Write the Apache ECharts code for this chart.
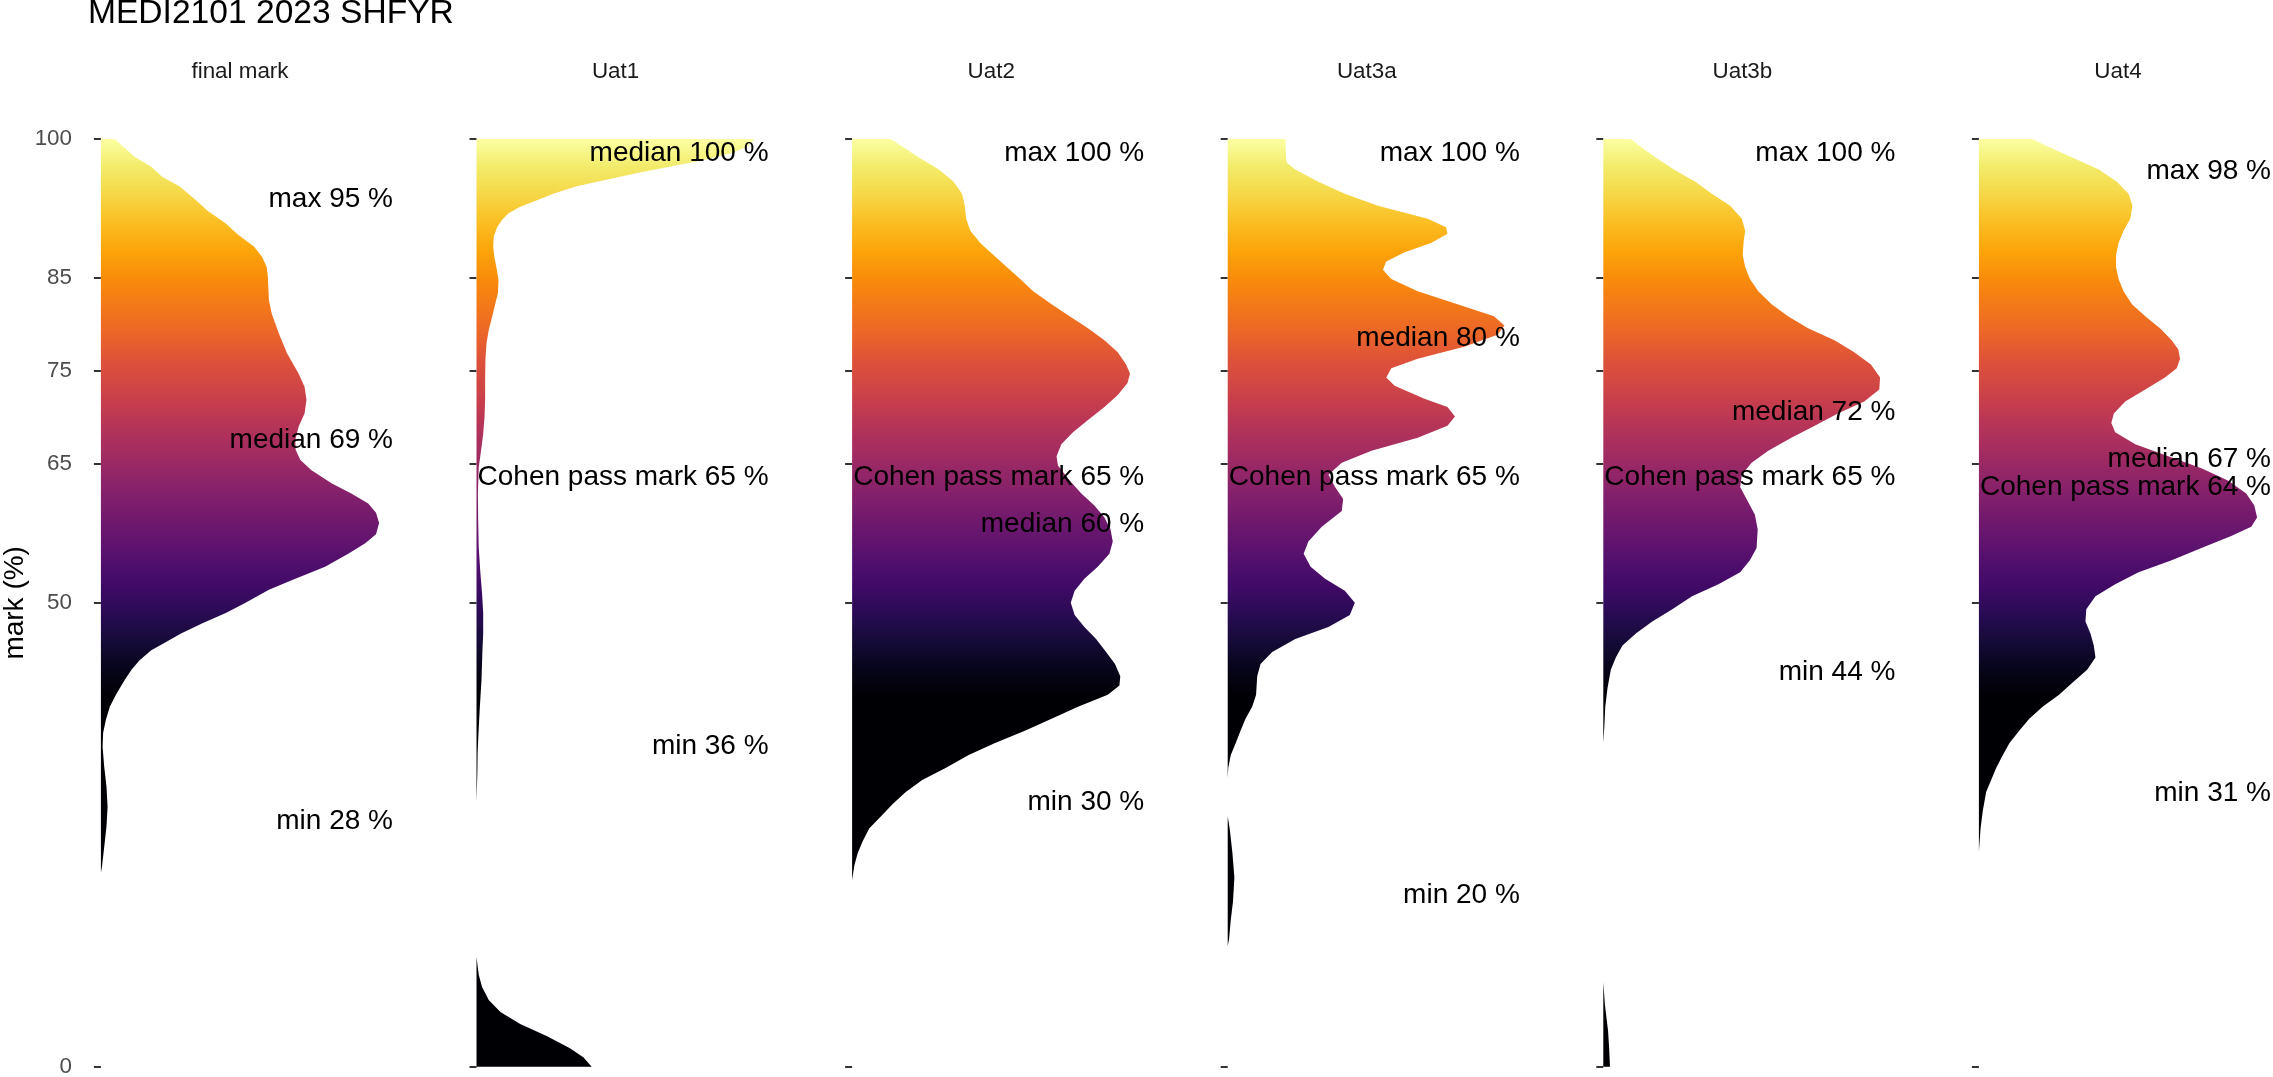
<!DOCTYPE html>
<html>
<head>
<meta charset="utf-8">
<script src="https://cdn.jsdelivr.net/npm/echarts@6/dist/echarts.min.js"></script>
<style>
html,body{margin:0;padding:0;background:#ffffff;}
#chart{width:2273px;height:1077px;}
</style>
</head>
<body>
<div id="chart"></div>
<script>
// ---------------- DATA ----------------
const chartTitle = 'MEDI2101 2023 SHFYR';
const yAxisTitle = 'mark (%)';
const facetNames = ['final mark', 'Uat1', 'Uat2', 'Uat3a', 'Uat3b', 'Uat4'];
const yTickValues = [0, 50, 65, 75, 85, 100];

// density outlines: [mark, relative density]; null = gap in the density
const densityFinal = [[100,5],[99.2,8],[98.1,12.1],[97.0,18.1],[95.9,22.1],[94.9,28.2],[93.4,34.2],[92.3,38.2],[90.9,44.9],[89.8,48.9],[88.4,55],[87.3,57.9],[86.2,59.6],[85.2,60],[82.6,60.4],[81.2,61.4],[79.1,63.9],[76.9,66.9],[74.7,71.1],[73.3,73.2],[71.9,73.9],[70.4,73.2],[69.0,71.1],[67.6,69.9],[66.5,70],[65.4,71.7],[64.3,75.7],[62.9,82.9],[61.8,90],[60.7,96.1],[59.7,98.9],[58.6,100],[57.4,98.9],[56.4,94.9],[55.3,88.9],[53.9,80.6],[52.5,69],[51.4,60.4],[50.0,52],[48.9,44.9],[47.8,36.5],[46.7,28.8],[45.6,22.3],[44.9,18.1],[43.8,13.9],[42.8,11],[41.7,8.6],[40.2,5.6],[38.8,3.2],[37.4,1.8],[36.0,0.8],[34.5,0.6],[32.3,1.2],[30.2,2.0],[28.0,2.4],[25.9,2.0],[23.7,1.2],[21.6,0.4],[20.9,0]];
const densityUat1 = [[100,100],[99.2,97.3],[98.5,91.9],[97.7,81.2],[97.0,69.3],[96.3,57.4],[95.6,46.7],[94.9,36],[94.1,27.6],[93.4,21.7],[92.7,15.7],[92.0,11.5],[91.3,9.2],[90.5,7.4],[89.5,6.2],[88.4,6.0],[87.3,6.4],[85.9,7.3],[84.8,7.9],[83.4,7.7],[82.3,6.8],[80.8,5.6],[79.4,4.4],[78.0,3.6],[76.2,3.2],[74.0,3.1],[71.9,3.1],[70.1,2.9],[68.2,2.4],[66.8,1.8],[64.6,0.8],[61.8,0.5],[58.9,0.6],[56.0,0.8],[53.2,1.4],[51.0,2.0],[48.9,2.4],[46.7,2.4],[44.6,2.1],[41.7,1.8],[38.8,1.2],[35.9,0.7],[33.8,0.4],[31.6,0.3],[28.5,0],null,[11.8,0],[9.9,0.8],[8.6,2.0],[7.2,4.4],[5.9,8.6],[4.6,15.7],[3.3,25.2],[2.0,33.6],[1.0,38.5],[0,41.4]];
const densityUat2 = [[100,13.9],[99.3,17.5],[98.0,24],[96.7,31.2],[95.4,36.5],[94.1,39.5],[92.8,40.5],[91.4,41],[90.1,42.5],[88.8,46.1],[87.5,50.8],[86.2,55.6],[84.9,60.4],[83.6,65.1],[82.2,71.7],[80.9,78.2],[79.6,84.8],[78.3,90.7],[77.0,95.5],[75.7,98.5],[74.7,99.9],[73.7,99],[72.4,95.5],[71.1,90.7],[69.7,84.8],[68.4,79.4],[67.1,75.2],[65.8,73.5],[64.8,74],[63.2,78.2],[61.8,82.4],[60.5,87.1],[59.2,90.7],[57.9,92.9],[56.6,93.7],[55.3,92.5],[53.9,88.3],[52.6,83.5],[51.3,80],[50.0,78.6],[48.7,80],[47.4,83.5],[46.1,87.7],[44.7,91.3],[43.4,94.5],[42.1,96.4],[41.1,96.1],[40.1,91.9],[38.8,81.2],[37.5,71.7],[36.2,62.1],[34.9,51.4],[33.6,41.9],[32.2,33.6],[30.9,25.2],[29.6,19.3],[28.3,14.5],[27.0,10.4],[25.7,6.2],[24.3,3.8],[23.0,2.0],[21.7,0.8],[20.1,0]];
const densityUat3a = [[100,20.7],[98.0,21],[97.4,21.3],[96.7,24.3],[95.4,32.6],[94.1,42.1],[92.8,54],[91.4,71.9],[90.5,78.5],[89.8,79],[88.8,73.1],[87.8,63.6],[86.8,57],[85.9,55.8],[84.9,58.8],[83.6,68.3],[82.2,82.6],[80.9,95.7],[79.9,99.5],[78.9,97],[77.6,85],[76.3,68.3],[75.3,58.8],[74.3,57],[73.4,60],[72.0,70.7],[71.1,79],[70.1,81.7],[69.1,79],[67.8,68.3],[66.4,51.7],[65.1,41],[63.8,36.2],[62.5,38.6],[61.2,41.5],[59.9,41],[58.2,33.8],[56.6,29],[55.3,27.3],[53.9,29.8],[52.6,35],[51.3,42.1],[50.0,45.7],[48.7,43.9],[47.4,36.2],[46.1,24.3],[44.7,16],[43.4,11.8],[42.1,10.6],[40.1,10.2],[38.8,8.8],[37.5,6.4],[36.2,4.6],[34.9,2.9],[33.6,1.1],[32.2,0.2],[31.1,0],null,[27.0,0],[25.7,0.7],[23.0,1.7],[20.4,2.4],[17.8,1.9],[15.8,1.1],[13.8,0.5],[13.0,0]];
const densityUat3b = [[100,9.9],[99.3,12.9],[98.0,18.8],[96.7,25.4],[95.4,33.1],[94.1,39],[92.8,45.6],[91.4,49.8],[90.1,51],[88.8,50.4],[87.5,50.1],[86.2,51],[84.9,52.7],[83.6,55.7],[82.2,60.5],[80.9,66.4],[79.6,73.6],[78.3,83.1],[77.0,90.2],[75.7,96.2],[74.3,99.5],[73.0,99.2],[71.7,93.8],[70.4,84.3],[69.1,76],[67.8,67.6],[66.4,59.3],[65.1,53.3],[63.8,49.8],[62.5,49.2],[61.2,51.5],[59.5,54.5],[57.9,55.5],[55.9,55.1],[54.6,52.7],[53.3,49.2],[52.0,41.4],[50.7,31.9],[49.3,24.8],[48.0,17.6],[46.7,11.7],[45.4,6.9],[44.1,4.5],[42.8,2.7],[40.8,1.5],[38.8,0.7],[36.8,0.4],[34.9,0],null,[9.1,0],[6.6,0.6],[3.9,1.7],[2.0,2.1],[0,2.4]];
const densityUat4 = [[100,19.3],[99.3,24],[98.0,33.6],[96.7,43.1],[95.4,49.6],[94.1,53.8],[92.8,55.2],[91.4,54.4],[90.1,52],[88.8,50.2],[87.5,49.3],[86.2,49.3],[84.9,50.2],[83.6,52],[82.2,55],[80.9,59.8],[79.6,65.1],[78.3,69.3],[77.3,71.7],[76.3,72.3],[75.3,71.1],[74.3,66.9],[73.0,59.8],[71.7,52.6],[70.4,48.5],[69.4,47.6],[68.4,49],[67.1,56.2],[65.8,68.1],[64.5,80],[63.2,89.5],[61.8,96.1],[60.5,99],[59.2,100],[58.2,97.9],[57.2,90.7],[55.9,80],[54.6,69.3],[53.3,57.4],[52.0,49],[50.7,41.9],[49.3,38.6],[48.0,38.3],[46.7,40.1],[45.4,41.3],[44.1,41.9],[42.8,38.9],[41.4,33.6],[40.1,28.8],[38.8,22.9],[37.5,18.1],[36.2,14.5],[34.9,11],[33.6,8.6],[32.2,6.2],[30.9,4.4],[29.6,2.6],[27.6,1.4],[25.7,0.6],[23.2,0]];

// annotation labels: [statistic, value %]
const statsFinal = [['max',95],['median',69],['min',28]];
const statsUat1  = [['median',100],['Cohen pass mark',65],['min',36]];
const statsUat2  = [['max',100],['Cohen pass mark',65],['median',60],['min',30]];
const statsUat3a = [['max',100],['median',80],['Cohen pass mark',65],['min',20]];
const statsUat3b = [['max',100],['median',72],['Cohen pass mark',65],['min',44]];
const statsUat4  = [['max',98],['median',67],['Cohen pass mark',64],['min',31]];

// inferno palette, fill mapped to mark between these limits (squished outside)
const fillLimits = [40, 100];
const infernoColours = ['#000004','#07051B','#160B39','#2A0B56','#420A68','#56106E','#6A176E','#7F1E6C','#932667','#A82E5F','#BC3754','#CF4446','#DD513A','#EB6529','#F37819','#F98C0A','#FCA50A','#FBBE23','#F6D746','#F2EB6A','#FCFFA4'];

// ---------------- LAYOUT / STYLE ----------------
const FONT = "'Liberation Sans', Arial, Helvetica, sans-serif";
const densities = [densityFinal, densityUat1, densityUat2, densityUat3a, densityUat3b, densityUat4];
const stats = [statsFinal, statsUat1, statsUat2, statsUat3a, statsUat3b, statsUat4];
const panelLeft = 87, panelStep = 375.6, panelWidth = 306, panelTop = 139, panelHeight = 927.7;

function gradientStops() {
  const n = infernoColours.length;
  const stops = infernoColours.map((c, i) => {
    const t = i / (n - 1);
    const mark = fillLimits[0] + t * (fillLimits[1] - fillLimits[0]);
    return { offset: (100 - mark) / 100, color: c };
  });
  stops.push({ offset: 1, color: infernoColours[0] });
  stops.sort((a, b) => a.offset - b.offset);
  return stops;
}
const STOPS = gradientStops();

function splitSegments(points) {
  const segs = []; let cur = [];
  points.forEach(p => {
    if (p === null) { if (cur.length) segs.push(cur); cur = []; }
    else cur.push(p);
  });
  if (cur.length) segs.push(cur);
  return segs;
}

function densitySeries(points, k) {
  const segs = splitSegments(points);
  return {
    type: 'custom', xAxisIndex: k, yAxisIndex: k, silent: true, clip: false, z: 2,
    data: segs.map(s => [s[0][1], s[0][0]]),
    renderItem(params, api) {
      const seg = segs[params.dataIndex];
      const pts = seg.map(p => api.coord([p[1], p[0]]));
      const b0 = api.coord([0, seg[0][0]]);
      const b1 = api.coord([0, seg[seg.length - 1][0]]);
      const yTop = api.coord([0, 100])[1];
      const yBot = api.coord([0, 0])[1];
      return {
        type: 'polygon',
        shape: { points: [b0].concat(pts, [b1]) },
        style: {
          fill: { type: 'linear', x: 0, y: yTop, x2: 0, y2: yBot, global: true, colorStops: STOPS },
          stroke: null, lineWidth: 0
        }
      };
    }
  };
}

function labelSeries(st, k) {
  return {
    type: 'custom', xAxisIndex: k, yAxisIndex: k, silent: true, clip: false, z: 10,
    data: st.map(s => [0, s[1]]),
    renderItem(params, api) {
      const s = st[params.dataIndex];
      const y = api.coord([0, api.value(1)])[1];
      const cs = params.coordSys;
      return {
        type: 'text', x: cs.x + cs.width, y: y,
        style: {
          text: s[0] + ' ' + s[1] + ' %',
          align: 'right', verticalAlign: 'top',
          textAlign: 'right', textVerticalAlign: 'top',
          fontSize: 28, fontFamily: FONT, fill: '#000000', lineHeight: 28
        }
      };
    }
  };
}

const grid = [], xAxis = [], yAxis = [], series = [];
facetNames.forEach((name, k) => {
  grid.push({ left: panelLeft + k * panelStep, top: panelTop, width: panelWidth, height: panelHeight, outerBoundsMode: 'none', containLabel: false });
  xAxis.push({
    gridIndex: k, type: 'value', min: -5, max: 105, position: 'top',
    axisLine: { show: false }, axisTick: { show: false }, axisLabel: { show: false }, splitLine: { show: false },
    name: name, nameLocation: 'middle', nameGap: 56,
    nameTextStyle: { fontSize: 22.4, color: '#1A1A1A', fontFamily: FONT }
  });
  yAxis.push({
    gridIndex: k, type: 'value', min: 0, max: 100,
    axisLine: { show: false }, splitLine: { show: false },
    axisTick: { show: true, length: 7, inside: false, customValues: yTickValues, lineStyle: { color: '#333333', width: 2 } },
    axisLabel: { show: k === 0, customValues: yTickValues, fontSize: 22.4, color: '#4D4D4D', margin: 15, fontFamily: FONT },
    name: k === 0 ? yAxisTitle : '', nameLocation: 'middle', nameGap: 58, nameRotate: 90,
    nameTextStyle: { fontSize: 28, color: '#000000', fontFamily: FONT }
  });
  series.push(densitySeries(densities[k], k));
  series.push(labelSeries(stats[k], k));
});

const chart = echarts.init(document.getElementById('chart'), null, { renderer: 'canvas', width: 2273, height: 1077 });
chart.setOption({
  backgroundColor: '#ffffff',
  animation: false,
  title: {
    text: chartTitle, left: 88, top: -3, padding: 0,
    textStyle: { fontSize: 33.6, fontWeight: 'normal', color: '#000000', fontFamily: FONT, lineHeight: 34 }
  },
  grid, xAxis, yAxis, series
});
</script>
</body>
</html>
